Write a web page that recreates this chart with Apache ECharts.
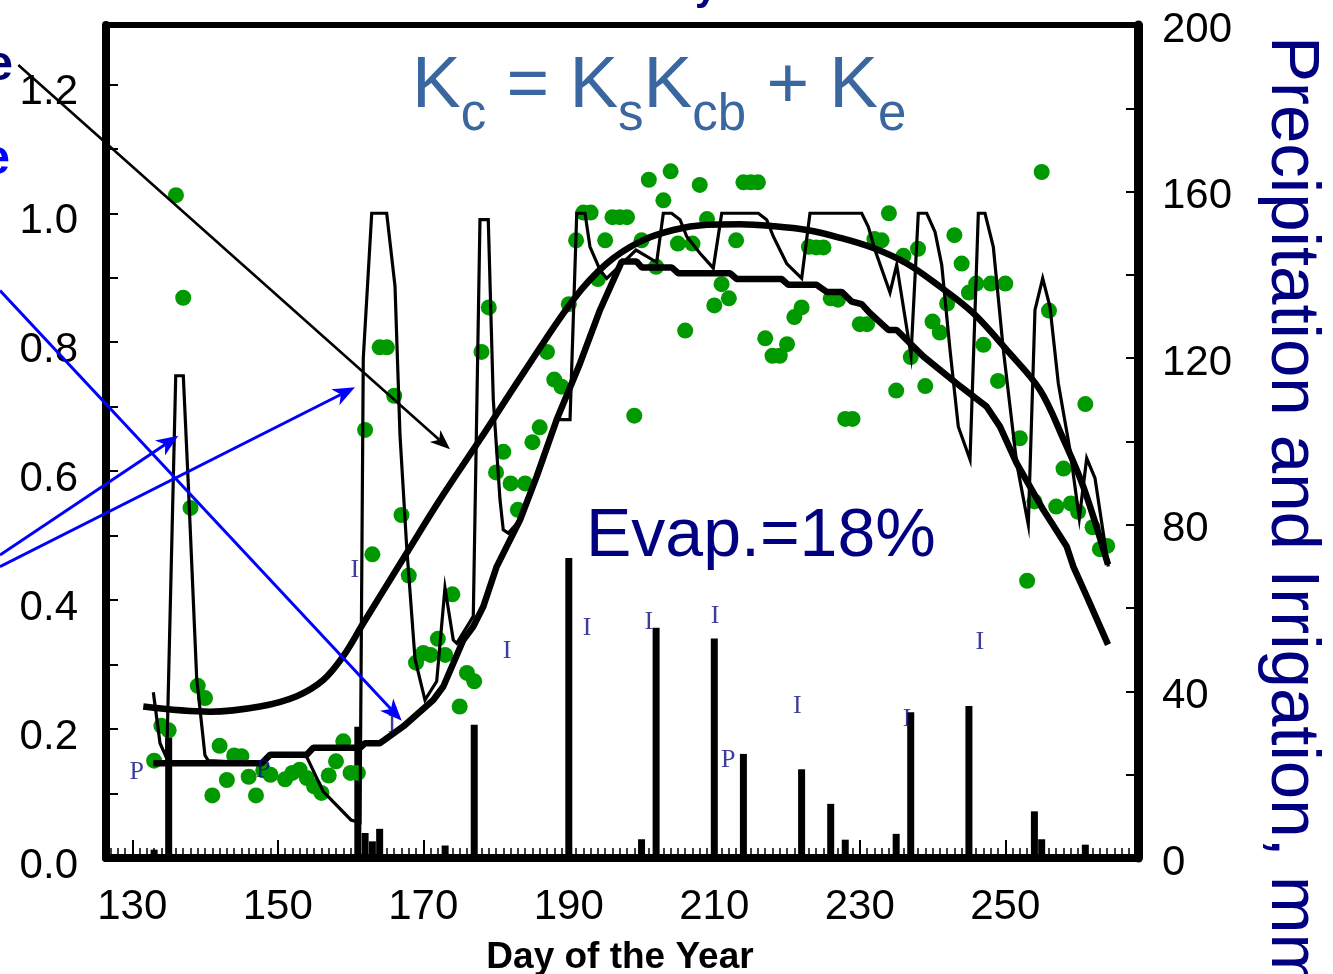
<!DOCTYPE html>
<html>
<head>
<meta charset="utf-8">
<script src="https://cdn.jsdelivr.net/npm/echarts@6/dist/echarts.min.js"></script>
<style>
  html, body { margin: 0; padding: 0; background: #ffffff; }
  #chart { width: 1333px; height: 974px; }
</style>
</head>
<body>
<div id="chart"></div>
<script>
// Axis extents
const dayRange = [126.385, 268.24];
const kcRange = [0, 1.292];
const mmRange = [0, 200];

// Tick / label positions
const dayLabels = [130, 150, 170, 190, 210, 230, 250];
const kcLabels = [0, 0.2, 0.4, 0.6, 0.8, 1.0, 1.2];
const kcTicks = [0, 0.1, 0.2, 0.3, 0.4, 0.5, 0.6, 0.7, 0.8, 0.9, 1.0, 1.1, 1.2];
const mmLabels = [0, 40, 80, 120, 160, 200];
const mmTicks = [0, 20, 40, 60, 80, 100, 120, 140, 160, 180, 200];

// Measured crop coefficient (day of year, Kc)
const measuredKc = [
  [133,0.151],[134,0.205],[135,0.198],[136,1.028],[137,0.869],[138,0.543],[139,0.267],[140,0.248],
  [141,0.097],[142,0.174],[143,0.121],[144,0.159],[145,0.158],[146,0.126],[147,0.097],[148,0.136],
  [149,0.129],[151,0.122],[152,0.132],[153,0.137],[154,0.124],[155,0.111],[156,0.101],[157,0.128],
  [158,0.150],[159,0.181],[160,0.132],[161,0.132],[162,0.664],[163,0.471],[164,0.792],[165,0.792],
  [166,0.717],[167,0.532],[168,0.438],[169,0.303],[170,0.318],[171,0.315],[172,0.340],[173,0.315],
  [174,0.409],[175,0.235],[176,0.287],[177,0.274],[178,0.785],[179,0.854],[180,0.598],[181,0.630],
  [182,0.581],[183,0.540],[184,0.581],[185,0.645],[186,0.668],[187,0.785],[188,0.742],[189,0.731],
  [190,0.859],[191,0.958],[192,1.001],[193,1.001],[194,0.898],[195,0.958],[196,0.994],[197,0.994],
  [198,0.994],[199,0.686],[200,0.958],[201,1.052],[202,0.917],[203,1.020],[204,1.065],[205,0.953],
  [206,0.818],[207,0.953],[208,1.044],[209,0.991],[210,0.857],[211,0.890],[212,0.868],[213,0.958],
  [214,1.048],[215,1.048],[216,1.048],[217,0.806],[218,0.779],[219,0.779],[220,0.797],[221,0.839],
  [222,0.854],[223,0.948],[224,0.947],[225,0.947],[226,0.868],[227,0.866],[228,0.681],[229,0.681],
  [230,0.828],[231,0.828],[232,0.960],[233,0.958],[234,1.000],[235,0.725],[236,0.934],[237,0.777],
  [238,0.945],[239,0.732],[240,0.832],[241,0.815],[242,0.860],[243,0.966],[244,0.922],[245,0.877],
  [246,0.891],[247,0.796],[248,0.891],[249,0.740],[250,0.891],[252,0.651],[253,0.430],[254,0.553],
  [255,1.064],[256,0.849],[257,0.545],[258,0.604],[259,0.550],[260,0.537],[261,0.704],[262,0.513],
  [263,0.479],[264,0.484]
];

// Modelled daily Kc = Ks*Kcb + Ke
const dailyKc = [
  [132.89,0.257],[133.81,0.178],[134.73,0.155],[135.97,0.748],[137.01,0.748],[137.70,0.579],
  [138.85,0.279],[139.99,0.159],[140.45,0.151],[147.79,0.147],[148.93,0.160],[153.97,0.157],
  [156.25,0.103],[160.06,0.059],[161.30,0.055],[161.75,0.775],[162.91,1.000],[164.97,1.000],
  [166.11,0.887],[166.80,0.655],[167.72,0.482],[168.86,0.309],[170.23,0.245],[171.84,0.274],
  [172.98,0.419],[174.12,0.338],[174.59,0.333],[176.87,0.375],[177.79,0.990],[178.93,0.990],
  [179.62,0.711],[180.54,0.556],[180.99,0.509],[181.68,0.504],[183.29,0.524],[185.59,0.592],
  [188.34,0.680],[189.03,0.680],[190.17,0.680],[191.09,1.000],[192.23,1.000],[192.91,0.948],
  [194.29,0.912],[195.21,0.899],[199.24,0.943],[202.08,0.924],[202.99,1.000],[204.14,1.000],
  [205.29,0.990],[206.21,0.964],[208.03,0.938],[209.86,0.915],[211.02,1.000],[216.05,1.000],
  [217.20,0.990],[218.11,0.964],[219.95,0.922],[222.01,0.899],[223.15,1.000],[230.26,1.000],
  [231.17,0.979],[232.09,0.943],[234.15,0.877],[235.07,0.920],[237.04,0.780],[238.04,1.000],
  [239.20,1.000],[240.34,0.971],[241.26,0.920],[242.40,0.788],[243.54,0.669],[245.15,0.618],
  [246.29,1.000],[247.21,1.000],[248.35,0.948],[249.73,0.788],[251.57,0.612],[253.16,0.517],
  [254.08,0.850],[255.14,0.899],[256.14,0.855],[257.29,0.736],[258.89,0.633],[260.17,0.527],
  [261.19,0.620],[262.33,0.589],[264.16,0.452]
];

// Basal crop coefficient (Ks*Kcb)
const basalKcb = [
  [132.89,0.147],[147.79,0.147],[148.93,0.160],[153.97,0.160],[154.88,0.171],[161.30,0.171],
  [161.99,0.178],[164.05,0.178],[167.25,0.204],[171.37,0.245],[172.75,0.266],[175.50,0.338],
  [176.87,0.359],[178.25,0.390],[180.09,0.452],[181.46,0.483],[183.29,0.524],[185.59,0.592],
  [188.34,0.680],[191.54,0.767],[194.29,0.850],[197.27,0.925],[199.33,0.925],[200.02,0.916],
  [204.14,0.916],[205.05,0.907],[212.16,0.907],[213.08,0.898],[219.26,0.898],[220.17,0.889],
  [224.08,0.889],[225.45,0.878],[227.51,0.878],[228.89,0.863],[230.26,0.859],[231.40,0.845],
  [233.92,0.819],[235.07,0.819],[238.73,0.778],[243.32,0.736],[247.44,0.700],[249.27,0.669],
  [251.57,0.612],[255.22,0.540],[258.44,0.483],[259.35,0.452],[261.19,0.406],[264.12,0.331]
];

// Fitted seasonal Kc curve
const fittedKc = [
  [131.51,0.235],[140.68,0.227],[147.55,0.235],[152.60,0.251],[156.25,0.276],[159.00,0.313],
  [161.75,0.364],[167.72,0.473],[172.30,0.556],[177.79,0.649],[183.75,0.752],[190.62,0.866],
  [195.21,0.922],[199.79,0.956],[204.36,0.974],[208.96,0.982],[213.53,0.983],[218.11,0.980],
  [222.70,0.974],[227.28,0.962],[231.86,0.946],[236.45,0.922],[241.03,0.886],[245.60,0.845],
  [250.19,0.788],[254.77,0.726],[257.97,0.650],[260.72,0.576],[264.12,0.455]
];

// Precipitation and irrigation depths, mm
const waterDays = [133, 135, 161, 162, 163, 164, 173, 177, 190, 200, 202, 210, 214, 222, 226, 228, 235, 237, 245, 254, 255, 261];
const waterMm   = [2, 29, 31.5, 6, 4, 7, 3, 32, 72, 4.5, 55.3, 52.7, 25, 21.3, 13, 4.4, 5.8, 35, 36.5, 11.2, 4.5, 3.2];

// Event markers: P = precipitation, I = irrigation (day, mm, tag)
const eventDays = [130.6, 148.0, 160.6, 165.7, 181.5, 192.5, 201.0, 210.1, 211.9, 221.4, 236.5, 246.5];
const eventMm   = [20.7, 21.1, 69.0, 31.9, 49.7, 55.2, 56.6, 58.0, 23.6, 36.5, 33.4, 51.9];
const eventTags = ['P', 'P', 'I', 'I', 'I', 'I', 'I', 'I', 'P', 'I', 'I', 'I'];

// Annotation arrows in data units: [fromDay, fromKc, toDay, toKc]
const blackArrows = [[114.33, 1.230, 173.67, 0.634]];
const blueArrows = [
  [111.81, 0.880, 167.03, 0.213],
  [111.81, 0.470, 136.32, 0.655],
  [111.81, 0.452, 160.61, 0.730]
];

const SANS = '"Liberation Sans", Arial, sans-serif';
const SERIF = '"Liberation Serif", "Times New Roman", serif';

const dailyTicks = [];
for (let d = 127; d <= 268; d++) dailyTicks.push(d);

const chart = echarts.init(document.getElementById('chart'), null, { renderer: 'canvas' });

const axisLabelBase = { fontFamily: SANS, fontSize: 42, color: '#000' };

chart.setOption({
  animation: false,
  backgroundColor: '#ffffff',
  grid: { left: 106, right: 195, top: 25, bottom: 116 },
  xAxis: [
    {
      type: 'value', min: dayRange[0], max: dayRange[1], position: 'bottom',
      axisLine: { show: true, onZero: false, lineStyle: { color: '#000', width: 8 } },
      axisTick: { show: true, inside: true, length: 18, customValues: dayLabels, lineStyle: { color: '#000', width: 2 } },
      axisLabel: Object.assign({ show: true, margin: 28, customValues: dayLabels }, axisLabelBase),
      splitLine: { show: false }
    },
    {
      type: 'value', min: dayRange[0], max: dayRange[1], position: 'bottom',
      axisLine: { show: false, onZero: false },
      axisTick: { show: true, inside: true, length: 10, customValues: dailyTicks, lineStyle: { color: '#000', width: 1.5 } },
      axisLabel: { show: false },
      splitLine: { show: false }
    },
    {
      type: 'value', min: dayRange[0], max: dayRange[1], position: 'top',
      axisLine: { show: true, onZero: false, lineStyle: { color: '#000', width: 6 } },
      axisTick: { show: false }, axisLabel: { show: false }, splitLine: { show: false }
    }
  ],
  yAxis: [
    {
      type: 'value', min: kcRange[0], max: kcRange[1], position: 'left',
      axisLine: { show: true, onZero: false, lineStyle: { color: '#000', width: 8 } },
      axisTick: { show: true, inside: true, length: 12, customValues: kcTicks, lineStyle: { color: '#000', width: 2 } },
      axisLabel: Object.assign({
        show: true, margin: 28, customValues: kcLabels,
        formatter: v => '{v|' + Number(v).toFixed(1) + '}',
        rich: { v: { fontFamily: SANS, fontSize: 42, color: '#000', padding: [16, 0, 0, 0] } }
      }, axisLabelBase),
      splitLine: { show: false }
    },
    {
      type: 'value', min: mmRange[0], max: mmRange[1], position: 'right',
      axisLine: { show: true, onZero: false, lineStyle: { color: '#000', width: 9 } },
      axisTick: { show: true, inside: true, length: 12, customValues: mmTicks, lineStyle: { color: '#000', width: 2 } },
      axisLabel: Object.assign({
        show: true, margin: 24, customValues: mmLabels,
        formatter: v => '{v|' + v + '}',
        rich: { v: { fontFamily: SANS, fontSize: 42, color: '#000', padding: [10, 0, 0, 0] } }
      }, axisLabelBase),
      splitLine: { show: false }
    }
  ],
  series: [
    {
      name: 'Precipitation and irrigation', type: 'bar', xAxisIndex: 0, yAxisIndex: 1,
      data: waterDays.map((d, i) => [d, waterMm[i]]),
      barWidth: 7, itemStyle: { color: '#000' }, z: 1
    },
    {
      name: 'Measured Kc', type: 'scatter', xAxisIndex: 0, yAxisIndex: 0,
      data: measuredKc, symbol: 'circle', symbolSize: 16,
      itemStyle: { color: '#009900', opacity: 1 }, z: 2
    },
    {
      name: 'Daily Kc', type: 'line', xAxisIndex: 0, yAxisIndex: 0,
      data: dailyKc, showSymbol: false, symbol: 'none',
      lineStyle: { color: '#000', width: 3.2, join: 'miter' }, z: 3
    },
    {
      name: 'Basal Kcb', type: 'line', xAxisIndex: 0, yAxisIndex: 0,
      data: basalKcb, showSymbol: false, symbol: 'none',
      lineStyle: { color: '#000', width: 6.5 }, z: 3
    },
    {
      name: 'Fitted Kc', type: 'line', xAxisIndex: 0, yAxisIndex: 0,
      data: fittedKc, showSymbol: false, symbol: 'none', smooth: 0.35,
      lineStyle: { color: '#000', width: 6.5 }, z: 3
    },
    {
      name: 'Events', type: 'scatter', xAxisIndex: 0, yAxisIndex: 1,
      data: eventDays.map((d, i) => ({ value: [d, eventMm[i]], name: eventTags[i] })),
      symbolSize: 1, itemStyle: { color: 'rgba(0,0,0,0)' },
      label: {
        show: true, position: 'inside', formatter: p => p.name,
        fontFamily: SERIF, fontSize: 26, color: '#0c0c80'
      },
      z: 5, silent: true
    }
  ]
});

// Arrowed annotation lines
function arrowGraphics(list, color, width, headLen, headHalf) {
  const out = [];
  list.forEach(a => {
    const p0 = chart.convertToPixel({ xAxisIndex: 0, yAxisIndex: 0 }, [a[0], a[1]]);
    const p1 = chart.convertToPixel({ xAxisIndex: 0, yAxisIndex: 0 }, [a[2], a[3]]);
    const dx = p1[0] - p0[0], dy = p1[1] - p0[1];
    const len = Math.hypot(dx, dy);
    const ux = dx / len, uy = dy / len, nx = -uy, ny = ux;
    const back = [p1[0] - ux * headLen, p1[1] - uy * headLen];
    const notch = [p1[0] - ux * headLen * 0.72, p1[1] - uy * headLen * 0.72];
    out.push({
      type: 'line', silent: true, z: 50,
      shape: { x1: p0[0], y1: p0[1], x2: notch[0], y2: notch[1] },
      style: { stroke: color, lineWidth: width }
    });
    out.push({
      type: 'polygon', silent: true, z: 51,
      shape: { points: [
        p1,
        [back[0] + nx * headHalf, back[1] + ny * headHalf],
        notch,
        [back[0] - nx * headHalf, back[1] - ny * headHalf]
      ] },
      style: { fill: color }
    });
  });
  return out;
}

// Title with subscripts, laid out piece by piece
const measureCtx = document.createElement('canvas').getContext('2d');
function textWidth(t, size) {
  measureCtx.font = size + 'px ' + SANS;
  return measureCtx.measureText(t).width;
}
const titleParts = [['K', 0], ['c', 1], [' = K', 0], ['s', 1], ['K', 0], ['cb', 1], [' + K', 0], ['e', 1]];
const titleBig = 73, titleSub = 51;
const titleGraphics = [];
let tx = 412;
titleParts.forEach(([t, sub]) => {
  const size = sub ? titleSub : titleBig;
  titleGraphics.push({
    type: 'text', silent: true, z: 60, x: tx, y: sub ? 116 : 87,
    style: { text: t, font: size + 'px ' + SANS, fill: '#3a67a0', align: 'left', verticalAlign: 'middle' }
  });
  tx += textWidth(t, size);
});

chart.setOption({
  graphic: [].concat(
    arrowGraphics(blackArrows, '#000', 2.6, 20, 8),
    arrowGraphics(blueArrows, '#0000ff', 3, 22, 9),
    titleGraphics,
    [
      {
        type: 'text', silent: true, z: 60, x: 586, y: 537,
        style: { text: 'Evap.=18%', font: '68px ' + SANS, fill: '#000080', align: 'left', verticalAlign: 'middle' }
      },
      {
        type: 'text', silent: true, z: 60, x: 620, y: 958,
        style: { text: 'Day of the Year', font: 'bold 37px ' + SANS, fill: '#000', align: 'center', verticalAlign: 'middle' }
      },
      {
        type: 'text', silent: true, z: 60, x: 1291, y: 36, rotation: -Math.PI / 2,
        style: { text: 'Precipitation and Irrigation, mm', font: '69px ' + SANS, fill: '#000080', align: 'left', verticalAlign: 'middle' }
      },
      {
        type: 'text', silent: true, z: 60, x: 13, y: 66,
        style: { text: 'e', font: 'bold 50px ' + SANS, fill: '#000070', align: 'right', verticalAlign: 'middle' }
      },
      {
        type: 'text', silent: true, z: 60, x: 10, y: 160,
        style: { text: 'e', font: 'bold 50px ' + SANS, fill: '#0000ff', align: 'right', verticalAlign: 'middle' }
      },
      {
        type: 'text', silent: true, z: 60, x: 706, y: -11,
        style: { text: 'y', font: 'bold 40px ' + SANS, fill: '#000080', align: 'center', verticalAlign: 'middle' }
      }
    ]
  )
});
</script>
</body>
</html>
